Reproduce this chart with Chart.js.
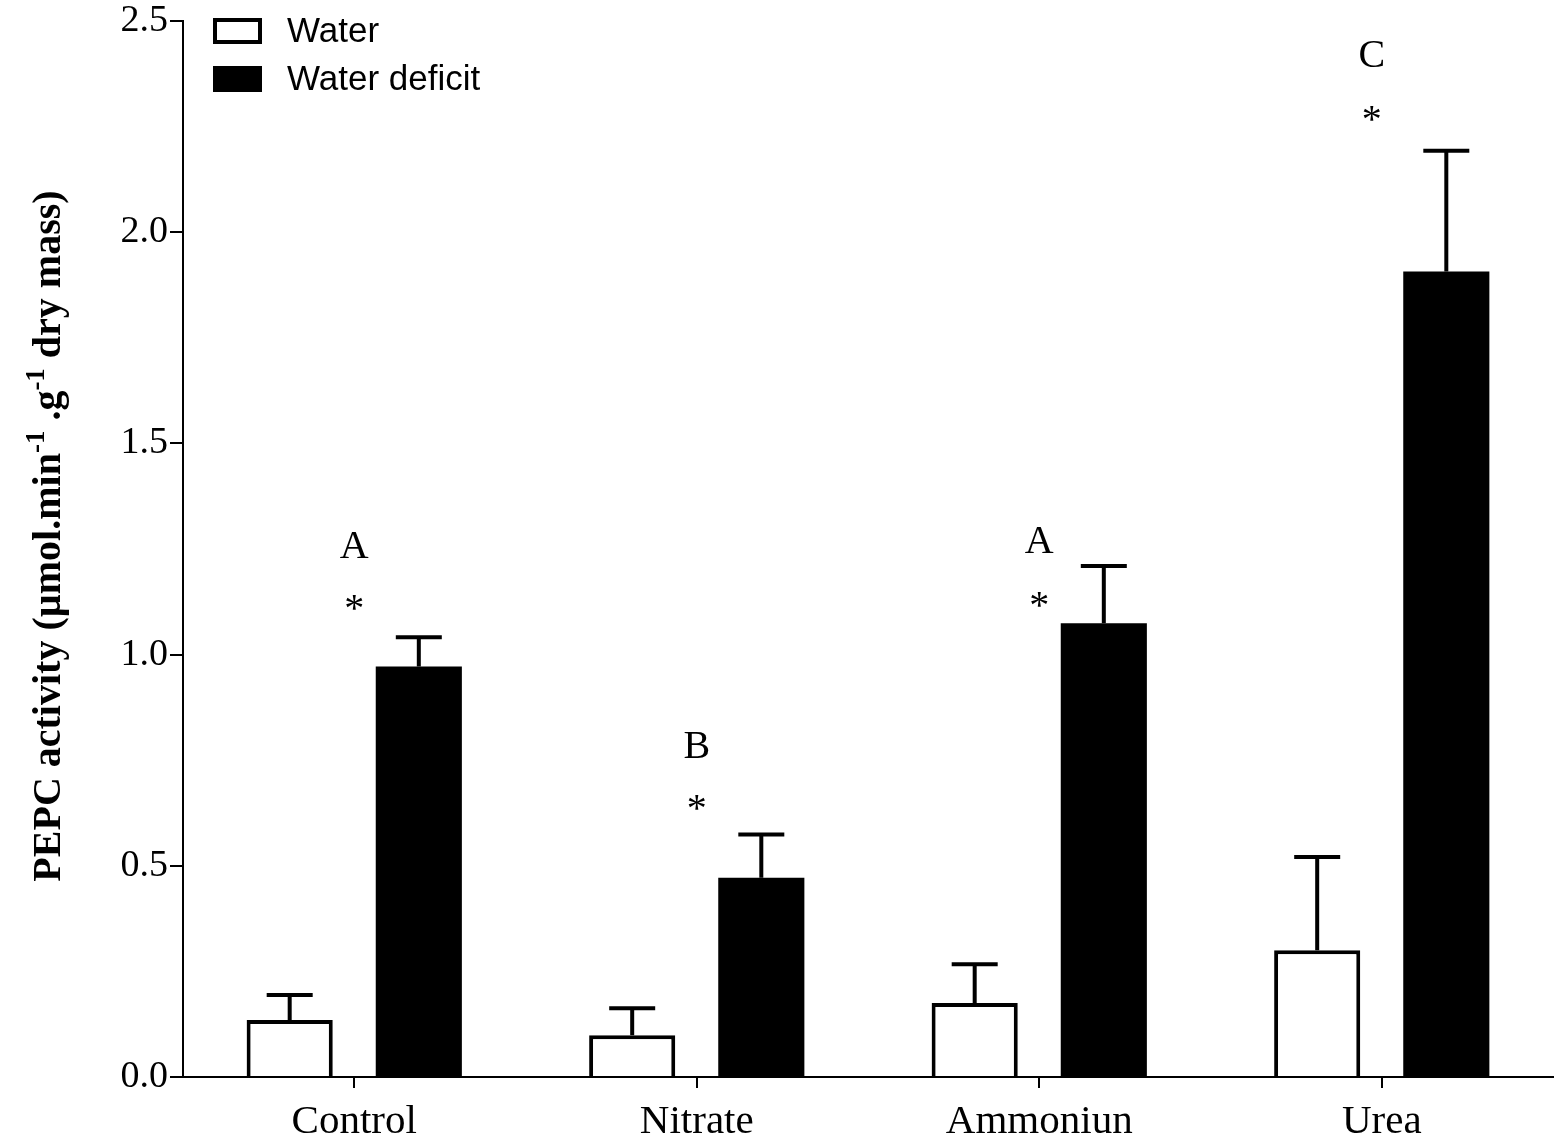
<!DOCTYPE html>
<html>
<head>
<meta charset="utf-8">
<script src="https://cdn.jsdelivr.net/npm/chart.js@4.4.1/dist/chart.umd.min.js"></script>
<style>
  html, body { margin: 0; padding: 0; background: #fff; }
  #wrap { width: 1559px; height: 1139px; }
</style>
</head>
<body>
<div id="wrap"><canvas id="pepcChart"></canvas></div>
<script>
// Chart values
const categories = ['Control', 'Nitrate', 'Ammoniun', 'Urea'];
const waterMean = [0.135, 0.099, 0.175, 0.300];
const waterSem = [0.059, 0.064, 0.092, 0.221];
const deficitMean = [0.972, 0.472, 1.074, 1.907];
const deficitSem = [0.069, 0.102, 0.136, 0.286];
const yTicks = [0, 0.5, 1.0, 1.5, 2.0, 2.5];

// Significance marks above each group
const groupLetters = ['A', 'B', 'A', 'C'];
const letterLevel = [1.259, 0.787, 1.271, 2.421];
const starLevel = [1.124, 0.651, 1.131, 2.282];

const serif = '"Liberation Serif", "Times New Roman", serif';
const sans = '"Liberation Sans", Arial, sans-serif';

// Upper error bars with caps
const errorBars = {
    id: 'errorBars',
    afterDatasetsDraw(chart) {
        const ctx = chart.ctx;
        const y = chart.scales.y;
        ctx.save();
        ctx.strokeStyle = '#000';
        ctx.lineWidth = 4;
        chart.data.datasets.forEach((ds, di) => {
            const meta = chart.getDatasetMeta(di);
            meta.data.forEach((bar, i) => {
                const top = y.getPixelForValue(ds.data[i] + ds.sem[i]);
                const base = y.getPixelForValue(ds.data[i]);
                ctx.beginPath();
                ctx.moveTo(bar.x, base);
                ctx.lineTo(bar.x, top);
                ctx.moveTo(bar.x - 23, top);
                ctx.lineTo(bar.x + 23, top);
                ctx.stroke();
            });
        });
        ctx.restore();
    }
};

// Letters and asterisks, ink centred on the given level
const marks = {
    id: 'marks',
    afterDatasetsDraw(chart) {
        const ctx = chart.ctx;
        const x = chart.scales.x;
        const y = chart.scales.y;
        ctx.save();
        ctx.fillStyle = '#000';
        ctx.textAlign = 'center';
        ctx.textBaseline = 'alphabetic';
        ctx.font = '40px ' + serif;
        const drawCentered = (txt, cx, cy) => {
            const m = ctx.measureText(txt);
            const off = (m.actualBoundingBoxAscent - m.actualBoundingBoxDescent) / 2;
            ctx.fillText(txt, cx, cy + off);
        };
        categories.forEach((c, i) => {
            // the last group's marks sit a little left of the tick
            const cx = x.getPixelForValue(i) - (i === categories.length - 1 ? 10 : 0);
            drawCentered(groupLetters[i], cx, y.getPixelForValue(letterLevel[i]));
            drawCentered('*', cx, y.getPixelForValue(starLevel[i]));
        });
        ctx.restore();
    }
};

// Legend in the top-left corner of the plot
const cornerLegend = {
    id: 'cornerLegend',
    afterDraw(chart) {
        const ctx = chart.ctx;
        ctx.save();
        ctx.font = '35px ' + sans;
        ctx.textBaseline = 'middle';
        chart.data.datasets.forEach((ds, i) => {
            const top = 18 + i * 48;
            ctx.fillStyle = ds.backgroundColor;
            ctx.fillRect(215, top + 2, 45, 22);
            ctx.strokeStyle = '#000';
            ctx.lineWidth = 4;
            ctx.strokeRect(215, top + 2, 45, 22);
            ctx.fillStyle = '#000';
            ctx.fillText(ds.label, 287, top + 14);
        });
        ctx.restore();
    }
};

// Rotated y-axis title with superscripts
const yTitle = {
    id: 'yTitle',
    afterDraw(chart) {
        const ctx = chart.ctx;
        const parts = [
            ['PEPC activity (\u00b5mol.min', false],
            ['-1', true],
            [' .g', false],
            ['-1', true],
            [' dry mass)', false]
        ];
        const big = 'bold 40px ' + serif;
        const small = 'bold 27px ' + serif;
        ctx.save();
        let total = 0;
        parts.forEach(p => {
            ctx.font = p[1] ? small : big;
            total += ctx.measureText(p[0]).width;
        });
        ctx.translate(60, 536);
        ctx.rotate(-Math.PI / 2);
        ctx.fillStyle = '#000';
        ctx.textBaseline = 'alphabetic';
        let pos = -total / 2;
        parts.forEach(p => {
            ctx.font = p[1] ? small : big;
            ctx.fillText(p[0], pos, p[1] ? -16 : 0);
            pos += ctx.measureText(p[0]).width;
        });
        ctx.restore();
    }
};

new Chart(document.getElementById('pepcChart'), {
    type: 'bar',
    data: {
        labels: categories,
        datasets: [{
            label: 'Water',
            data: waterMean,
            sem: waterSem,
            backgroundColor: '#ffffff',
            borderColor: '#000000',
            borderWidth: 4,
            borderSkipped: 'start'
        }, {
            label: 'Water deficit',
            data: deficitMean,
            sem: deficitSem,
            backgroundColor: '#000000',
            borderColor: '#000000',
            borderWidth: 0
        }]
    },
    options: {
        responsive: true,
        maintainAspectRatio: false,
        animation: false,
        devicePixelRatio: 1,
        categoryPercentage: 0.754,
        barPercentage: 0.667,
        layout: { padding: { left: 0, top: 18, right: 6, bottom: 0 } },
        plugins: {
            legend: { display: false },
            tooltip: { enabled: false }
        },
        scales: {
            x: {
                afterFit: function(scale) { scale.height = 62; },
                grid: {
                    offset: false,
                    drawOnChartArea: false,
                    tickLength: 11,
                    color: '#000',
                    lineWidth: 2
                },
                border: { color: '#000', width: 2 },
                ticks: {
                    color: '#000',
                    padding: 14,
                    font: { family: serif, size: 41, lineHeight: 1 }
                }
            },
            y: {
                min: 0,
                max: 2.5,
                afterFit: function(scale) { scale.width = 183; },
                afterBuildTicks: function(scale) {
                    scale.ticks = yTicks.map(v => ({ value: v }));
                },
                grid: {
                    drawOnChartArea: false,
                    tickLength: 13,
                    color: '#000',
                    lineWidth: 2
                },
                border: { color: '#000', width: 2 },
                ticks: {
                    color: '#000',
                    padding: 2,
                    font: { family: serif, size: 38, lineHeight: 1 },
                    callback: function(value) { return value.toFixed(1); }
                }
            }
        }
    },
    plugins: [errorBars, marks, cornerLegend, yTitle]
});
</script>
</body>
</html>
